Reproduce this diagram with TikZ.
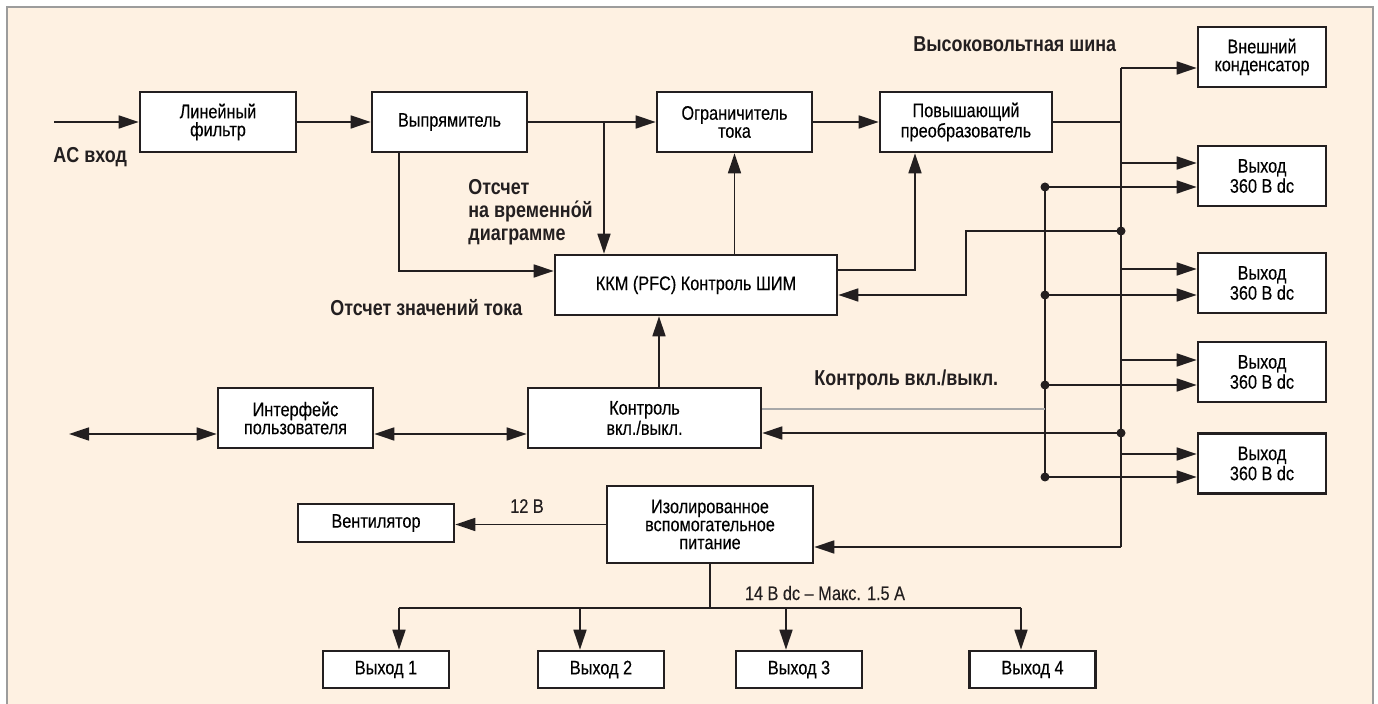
\documentclass[tikz,border=0pt]{standalone}
\usepackage{fontspec}
\setmainfont{Liberation Sans}[FakeStretch=0.83,FakeBold=0.2]
\newfontfamily\lblfont{Liberation Sans}[FakeStretch=0.83]
\usetikzlibrary{arrows.meta,positioning}
\definecolor{bgpeach}{HTML}{FEF1E2}
\definecolor{framegray}{HTML}{9C9C9C}
\definecolor{ink}{HTML}{231F20}
\definecolor{thingray}{HTML}{A8A8A8}

\begin{document}
\begin{tikzpicture}[
	x=0.5pt, y=-0.5pt,
	font=\fontsize{9.8}{9}\selectfont,
	blk/.style={draw=ink, line width=1.3pt, fill=white, align=center, inner sep=0pt, minimum height=30pt},
	lbl/.style={font=\lblfont\bfseries\fontsize{10.8}{11.5}\selectfont, text=ink, anchor=west, align=left, inner sep=0pt},
	note/.style={text=ink, inner sep=0pt},
	wire/.style={draw=ink, line width=0.75pt},
	con/.style={wire, -{Triangle[length=10pt,width=6.5pt]}},
	bicon/.style={wire, {Triangle[length=10pt,width=6.5pt]}-{Triangle[length=10pt,width=6.5pt]}},
	jn/.style={circle, fill=ink, inner sep=0pt, minimum size=4.5pt},
	]
\useasboundingbox (0,0) rectangle (1378,704);
\fill[white] (0,0) rectangle (1378,704);
\fill[bgpeach] (7,7) rectangle (1373,712);
\draw[framegray, line width=1.2pt] (7,712) -- (7,7) -- (1373,7) -- (1373,712);

\node[blk, minimum width=78pt] (filt) at (218,122) {Линейный\\фильтр};
\node[blk, minimum width=77.5pt] (rect) at (449.5,122) {Выпрямитель};
\node[blk, minimum width=77.5pt] (lim) at (734.5,122) {Ограничитель\\тока};
\node[blk, minimum width=86pt] (boost) at (966,122) {Повышающий\\преобразователь};
\node[blk, minimum width=64pt] (cap) at (1262,57) {Внешний\\конденсатор};
\foreach \n/\y in {1/176,2/283,3/372,4/463.5}
	\node[blk, minimum width=64pt] (out\n) at (1262,\y) {Выход\\360 В dc};
\node[blk, minimum width=141pt] (pfc) at (696,285) {ККМ (PFC) Контроль ШИМ};
\node[blk, minimum width=77.5pt] (ui) at (295.5,418) {Интерфейс\\пользователя};
\node[blk, minimum width=116.5pt] (onoff) at (644.5,418) {Контроль\\вкл./выкл.};
\node[blk, minimum width=103pt, minimum height=38.5pt] (aux) at (710,524.5) {Изолированное\\вспомогательное\\питание};
\node[blk, minimum width=78pt, minimum height=19pt] (fan) at (376,523) {Вентилятор};
\foreach \n/\x in {1/386,2/601,3/799,4/1032.5}
	\node[blk, minimum width=63pt, minimum height=18.5pt] (sub\n) at (\x,669.5) {Выход \n};

\node[lbl] (acin) at (53,157) {AC вход};
\node[lbl] (hvbus) at (913,44) {Высоковольтная шина};
\node[lbl] (tsmp) at (468,212) {Отсчет\\на временно́й\\диаграмме};
\node[lbl] (isamp) at (330,308) {Отсчет значений тока};
\node[lbl] (onlbl) at (814,380) {Контроль вкл./выкл.};
\node[note] (v12) at (527,506) {12 В};
\node[note] (v14) at (825,593) {14 В dc – Макс. 1.5 А};

\coordinate (acsrc) at (54,122);
\draw[con] (acsrc) -- (filt);
\draw[con] (filt) -- (rect);
\draw[con] (rect) -- (lim);
\draw[con] (lim) -- (boost);
\coordinate (tap) at (604,122);
\draw[con] (tap) -- (tap |- pfc.north);
\coordinate (rtap) at (399,271);
\draw[con] (rtap |- rect.south) |- (rtap -| pfc.west);
\draw[con] (lim.south |- pfc.north) -- (lim.south);
\coordinate (fb) at (915,270);
\draw[con] (fb -| pfc.east) -| (boost.south -| fb);
\coordinate (on) at (659,0);
\draw[con] (on |- onoff.north) -- (on |- pfc.south);

\coordinate (bustop) at (1121,68);
\coordinate (busbot) at (1121,547);
\draw[wire] (boost.east) -- (boost.east -| bustop);
\draw[wire] (bustop) -- (busbot);
\draw[con] (bustop) -- (bustop -| cap.west);
\foreach \n/\y in {1/163,2/269,3/360,4/454} {
	\coordinate (hv\n) at (1121,\y);
	\draw[con] (hv\n) -- (hv\n -| out\n.west);
}
\coordinate (ctrltop) at (1045,187);
\coordinate (ctrlbot) at (1045,477);
\draw[wire] (ctrltop) -- (ctrlbot);
\foreach \n/\y in {1/187,2/295,3/385,4/477} {
	\node[jn] (sw\n) at (1045,\y) {};
	\draw[con] (sw\n.center) -- (sw\n -| out\n.west);
}
\coordinate (gl) at (1045,409);
\draw[thingray, line width=0.6pt] (gl -| onoff.east) -- (gl);

\node[jn] (bj1) at (1121,231) {};
\node[jn] (bj2) at (1121,433) {};
\coordinate (pf) at (966,295);
\draw[con] (bj1.center) -| (pf) -- (pf -| pfc.east);
\draw[con] (bj2.center) -- (bj2 -| onoff.east);
\draw[con] (busbot) -- (busbot -| aux.east);

\coordinate (ext) at (69,434);
\draw[bicon] (ext) -- (ext -| ui.west);
\draw[bicon] (ext -| ui.east) -- (ext -| onoff.west);

\draw[con] (aux.west) -- (aux.west -| fan.east);
\coordinate (split) at (709.5,608);
\draw[wire] (aux.south) -- (aux.south |- split);
\foreach \n/\x in {1/399,2/580,3/786,4/1021} {
	\coordinate (drop\n) at (\x,608);
	\draw[con] (drop\n) -- (drop\n |- sub\n.north);
}
\draw[wire] (drop1) -- (drop4);
\end{tikzpicture}
\end{document}
